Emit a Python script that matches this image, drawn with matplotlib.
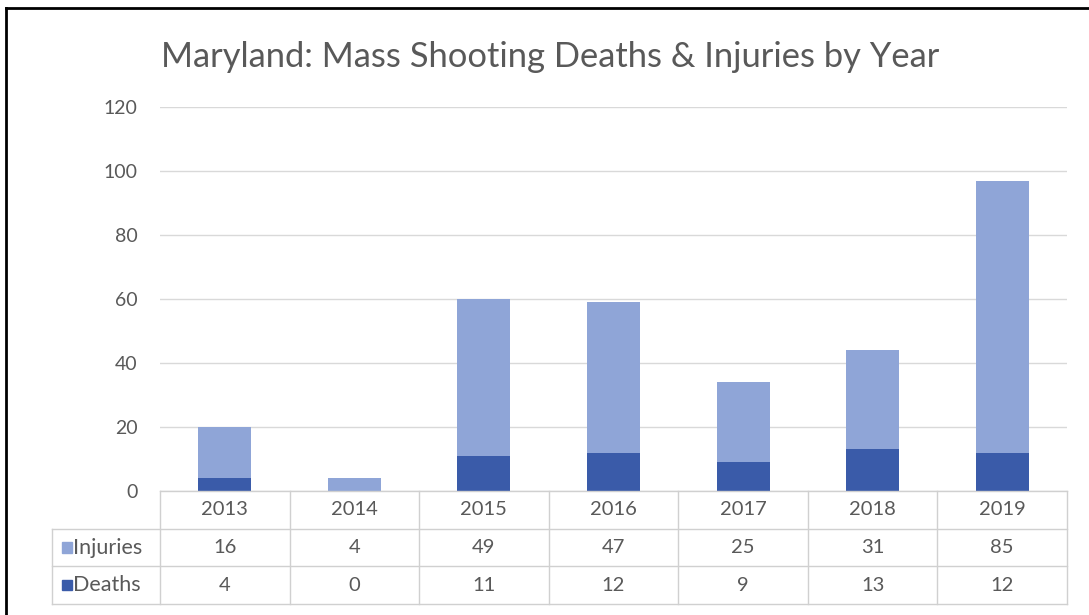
import matplotlib
matplotlib.use("Agg")
import matplotlib.pyplot as plt
from matplotlib.lines import Line2D
from matplotlib.patches import Rectangle

years = ["2013", "2014", "2015", "2016", "2017", "2018", "2019"]
injuries = [16, 4, 49, 47, 25, 31, 85]
deaths = [4, 0, 11, 12, 9, 13, 12]
yticks = [0, 20, 40, 60, 80, 100, 120]
title = "Maryland: Mass Shooting Deaths & Injuries by Year"

C_INJ = "#8FA5D7"
C_DEA = "#3A5BA9"
TXT = "#595959"
GRID = "#D9D9D9"
FONT = ["Lato", "DejaVu Sans"]
plt.rcParams["font.family"] = FONT

W, H = 1089, 615
fig = plt.figure(figsize=(W / 100, H / 100), dpi=100)

def px(x0, y0, x1, y1):
    return [x0 / W, 1 - y1 / H, (x1 - x0) / W, (y1 - y0) / H]

# plot area
pl, pr, pt, pb = 160, 1067, 107, 491
ax = fig.add_axes(px(pl, pt, pr, pb))
n = len(years)
x = list(range(n))
ax.bar(x, deaths, width=0.41, color=C_DEA, zorder=3)
ax.bar(x, injuries, width=0.41, bottom=deaths, color=C_INJ, zorder=3)
ax.set_xlim(-0.5, n - 0.5)
ax.set_ylim(0, 120)
ax.set_yticks(yticks)
ax.set_yticklabels([str(v) for v in yticks], color=TXT, fontsize=14)
ax.tick_params(axis="y", length=0, pad=16)
ax.set_xticks([])
for s in ax.spines.values():
    s.set_visible(False)
ax.yaxis.grid(True, color=GRID, linewidth=1)
ax.set_axisbelow(True)

# table axes
tb = 604
tax = fig.add_axes(px(pl, pb, pr, tb))
tax.set_xlim(-0.5, n - 0.5)
tax.set_ylim(3, 0)
tax.axis("off")
colw_px = (pr - pl) / n
leg_left = -0.5 - (pl - 52) / colw_px
lc = "#D0D0D0"
kw = dict(color=lc, linewidth=1, clip_on=False)
tax.add_line(Line2D([-0.5, n - 0.5], [0, 0], **kw))
for r in (1, 2, 3):
    tax.add_line(Line2D([leg_left, n - 0.5], [r, r], **kw))
for i in range(n + 1):
    tax.add_line(Line2D([i - 0.5, i - 0.5], [0, 3], **kw))
tax.add_line(Line2D([leg_left, leg_left], [1, 3], **kw))

TFS = 14.5
for i, yr in enumerate(years):
    tax.text(i, 0.5, yr, ha="center", va="center", color=TXT, fontsize=TFS)
    tax.text(i, 1.5, str(injuries[i]), ha="center", va="center", color=TXT, fontsize=TFS)
    tax.text(i, 2.5, str(deaths[i]), ha="center", va="center", color=TXT, fontsize=TFS)

sq_w = 10 / colw_px
for r, (lab, col) in enumerate([("Injuries", C_INJ), ("Deaths", C_DEA)]):
    yc = 1.5 + r
    x0 = leg_left + 10 / colw_px
    tax.add_patch(Rectangle((x0, yc - 0.14), sq_w, 0.28, color=col, clip_on=False))
    tax.text(x0 + sq_w + 1 / colw_px, yc, lab, ha="left", va="center", color=TXT, fontsize=15.5)

fig.text(550 / W, 1 - 67 / H, title, ha="center", va="baseline", color=TXT, fontsize=24.8)

# outer black border (top and left)
fig.add_artist(Line2D([6 / W, 1], [1 - 8 / H, 1 - 8 / H], color="black", linewidth=2, transform=fig.transFigure))
fig.add_artist(Line2D([6 / W, 6 / W], [0, 1 - 8 / H], color="black", linewidth=2, transform=fig.transFigure))

fig.savefig("out.png", dpi=100)
